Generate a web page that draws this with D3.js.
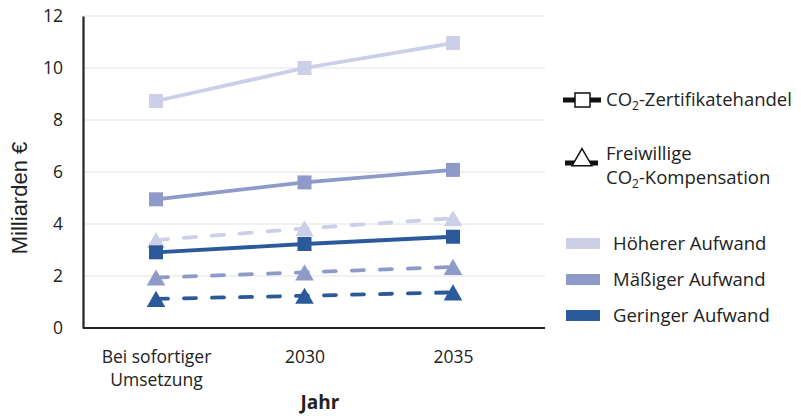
<!DOCTYPE html>
<html><head><meta charset="utf-8">
<script src="https://cdn.jsdelivr.net/npm/d3@7"></script>
<style>body{margin:0;background:#fff}svg{display:block}</style>
</head><body>
<svg id="c" width="801" height="416"></svg>
<script>
const categories = [["Bei sofortiger","Umsetzung"],["2030"],["2035"]];
const catKeys = ["Bei sofortiger Umsetzung","2030","2035"];
const yTicks = [0,2,4,6,8,10,12];
const levels = ["Höherer Aufwand","Mäßiger Aufwand","Geringer Aufwand"];
const levelColors = ["#cbcfe8","#8e9ac8","#2b5a9b"];
// CO2-Zertifikatehandel (squares, solid)
const zertHoeher = [8.73, 10.0, 10.96];
const zertMaessig = [4.95, 5.6, 6.08];
const zertGering = [2.91, 3.23, 3.51];
// Freiwillige CO2-Kompensation (triangles, dashed)
const kompHoeher = [3.38, 3.83, 4.22];
const kompMaessig = [1.94, 2.14, 2.35];
const kompGering = [1.12, 1.24, 1.37];

const series = [
  {vals: zertHoeher, lvl:0, type:"square"},
  {vals: zertMaessig, lvl:1, type:"square"},
  {vals: kompHoeher, lvl:0, type:"triangle"},
  {vals: kompMaessig, lvl:1, type:"triangle"},
  {vals: kompGering, lvl:2, type:"triangle"},
  {vals: zertGering, lvl:2, type:"square"}
];

const svg = d3.select("#c");
const font = "'Open Sans', sans-serif";
const plotL = 83, plotR = 545, plotT = 16, plotB = 328;
const x = d3.scalePoint().domain(catKeys).range([156, 453]);
const y = d3.scaleLinear().domain([0,12]).range([plotB, plotT]);

// gridlines
svg.append("g").selectAll("line").data(yTicks.filter(d=>d>0)).join("line")
  .attr("x1", plotL).attr("x2", plotR)
  .attr("y1", d=>y(d)).attr("y2", d=>y(d))
  .attr("stroke", "#e3e3e3").attr("stroke-width", 1.2);

// y axis
const yAxis = svg.append("g").attr("transform", `translate(${plotL},0)`)
  .call(d3.axisLeft(y).tickValues(yTicks).tickSize(0).tickPadding(20));
yAxis.select(".domain").attr("stroke", "#222").attr("stroke-width", 2.2);
yAxis.selectAll("text").attr("font-family", font).attr("font-size", 17.5).attr("fill", "#222");

// x axis
const xAxis = svg.append("g").attr("transform", `translate(0,${plotB})`)
  .call(d3.axisBottom(x).tickSize(0).tickFormat(""));
xAxis.select(".domain").attr("d", `M${plotL},0H${plotR}`).attr("stroke", "#222").attr("stroke-width", 2.2);
xAxis.selectAll(".tick").each(function(d,i){
  const t = d3.select(this).append("text").attr("font-family", font).attr("font-size", 17.5)
    .attr("fill", "#222").attr("text-anchor", "middle");
  categories[i].forEach((s,j)=>t.append("tspan").attr("x",0).attr("y", 35 + j*23).text(s));
});

// axis titles
svg.append("text").attr("transform", "translate(27,198) rotate(-90)")
  .attr("text-anchor","middle").attr("font-family","'Liberation Sans', Arial, sans-serif")
  .attr("font-size", 22).attr("fill","#222").text("Milliarden €");
svg.append("text").attr("x", 320).attr("y", 409).attr("text-anchor","middle")
  .attr("font-family", font).attr("font-size", 19).attr("font-weight","bold").attr("fill","#222").text("Jahr");

const line = d3.line().x((d,i)=>x(catKeys[i])).y(d=>y(d));
const sq = d3.symbol().type(d3.symbolSquare).size(196);
const triSize = 150;
const triSide = Math.sqrt(triSize * 4 / Math.sqrt(3));
const triH = triSide * Math.sqrt(3) / 2;
const tri = d3.symbol().type(d3.symbolTriangle).size(triSize);

series.forEach(s=>{
  const col = levelColors[s.lvl];
  const g = svg.append("g");
  g.selectAll("path.m").data(s.vals).join("path").attr("class","m")
    .attr("d", s.type==="square"? sq() : tri())
    .attr("transform", (d,i)=>`translate(${x(catKeys[i])},${y(d) + (s.type==="triangle"? triH/6 : 0)})`)
    .attr("fill", col);
  g.append("path").datum(s.vals).attr("d", line).attr("fill","none")
    .attr("stroke", col).attr("stroke-width", 3.8)
    .attr("stroke-linecap","round")
    .attr("stroke-dasharray", s.type==="triangle" ? "12,16" : null);
});

// legend
const lg = svg.append("g");
const lfs = 18.5;
lg.append("line").attr("x1",563).attr("x2",601).attr("y1",100).attr("y2",100).attr("stroke","#111").attr("stroke-width",5);
lg.append("rect").attr("x",575).attr("y",93).attr("width",15).attr("height",14).attr("fill","#fff").attr("stroke","#111").attr("stroke-width",1.5);
const lt1 = lg.append("text").attr("x",606).attr("y",106).attr("font-family",font).attr("font-size",lfs).attr("fill","#222");
lt1.append("tspan").text("CO");
lt1.append("tspan").attr("font-size",12).attr("dy",4).text("2");
lt1.append("tspan").attr("dy",-4).text("-Zertifikatehandel");

lg.append("line").attr("x1",565).attr("x2",598).attr("y1",163).attr("y2",163).attr("stroke","#111").attr("stroke-width",5);
lg.append("path").attr("d", d3.symbol().type(d3.symbolTriangle).size(170)()).attr("transform","translate(582,160)")
  .attr("fill","#fff").attr("stroke","#111").attr("stroke-width",1.5);
lg.append("text").attr("x",606).attr("y",160).attr("font-family",font).attr("font-size",lfs).attr("fill","#222").text("Freiwillige");
const lt2 = lg.append("text").attr("x",606).attr("y",184).attr("font-family",font).attr("font-size",lfs).attr("fill","#222");
lt2.append("tspan").text("CO");
lt2.append("tspan").attr("font-size",12).attr("dy",4).text("2");
lt2.append("tspan").attr("dy",-4).text("-Kompensation");

levels.forEach((l,i)=>{
  const yy = 244 + i*36;
  lg.append("rect").attr("x",566).attr("y",yy-6).attr("width",34).attr("height",11).attr("fill",levelColors[i]);
  lg.append("text").attr("x",613).attr("y",yy+6).attr("font-family",font).attr("font-size",lfs).attr("fill","#222").text(l);
});
</script>
</body></html>
